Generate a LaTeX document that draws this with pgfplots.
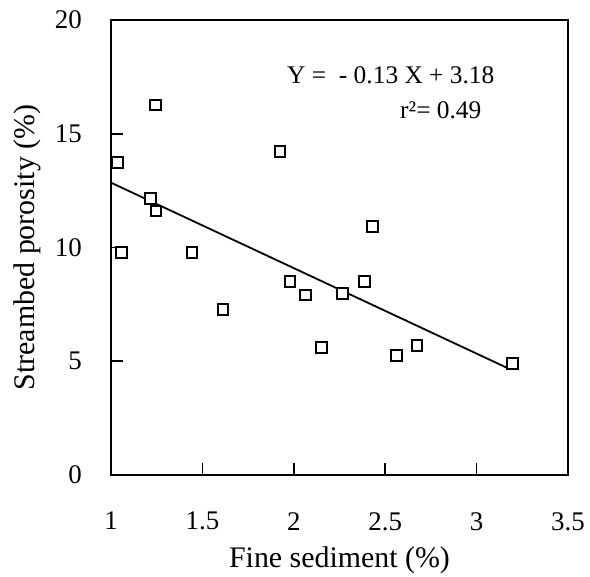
\documentclass[border=0pt]{standalone}
\usepackage{pgfplots}
\pgfplotsset{compat=1.18}
\usepackage{fontspec}
\setmainfont{Liberation Serif}
\begin{document}
\begin{tikzpicture}
\begin{axis}[
  at={(0,0)}, anchor=south west,
  scale only axis, width=457bp, height=455bp,
  xmin=1, xmax=3.5, ymin=0, ymax=20,
  xtick={1,1.5,2,2.5,3,3.5}, ytick={0,5,10,15,20},
  xticklabels={1,1.5,2,2.5,3,3.5},
  yticklabels={0,5,10,15,20},
  tick pos=left, tick align=inside,
  major tick length=12bp,
  axis line style={line width=1.8bp},
  every tick/.style={black, line width=1.6bp},
  tick label style={font=\fontsize{27}{32}\selectfont},
  xticklabel style={anchor=north, inner sep=0pt, yshift=-37bp},
  yticklabel style={anchor=east, inner sep=0pt, xshift=-29bp},
  label style={font=\fontsize{30}{36}\selectfont},
  xlabel={Fine sediment (\%)},
  ylabel={Streambed porosity (\%)},
  xlabel style={at={(axis description cs:0.5,-0.2022)}, anchor=base},
  ylabel style={at={(axis description cs:-0.1663,0.5)}, anchor=base},
  clip=false,
]
\addplot[only marks, mark=square*, mark size=5.4bp,
  mark options={draw=black, fill=white, line width=2bp}]
  coordinates {
  (1.245,16.26) (1.037,13.74) (1.924,14.21) (1.217,12.16) (1.246,11.60)
  (2.432,10.91) (1.058,9.79) (1.443,9.79) (1.979,8.50) (2.388,8.50)
  (2.065,7.91) (2.265,7.99) (1.613,7.28) (2.153,5.60) (2.561,5.26)
  (2.674,5.70) (3.197,4.91)
  };
\addplot[black, line width=1.8bp] coordinates {(1,12.85) (3.18,4.66)};
\node[anchor=base west, inner sep=0pt, font=\fontsize{25.5}{30}\selectfont]
  at (axis cs:1.963,17.23) {Y =\ \ - 0.13 X + 3.18};
\node[anchor=base west, inner sep=0pt, font=\fontsize{25.5}{30}\selectfont]
  at (axis cs:2.581,15.65) {r²= 0.49};
\end{axis}
\pgfresetboundingbox
\path (-111bp,-102bp) rectangle (479bp,475bp);
\end{tikzpicture}
\end{document}
